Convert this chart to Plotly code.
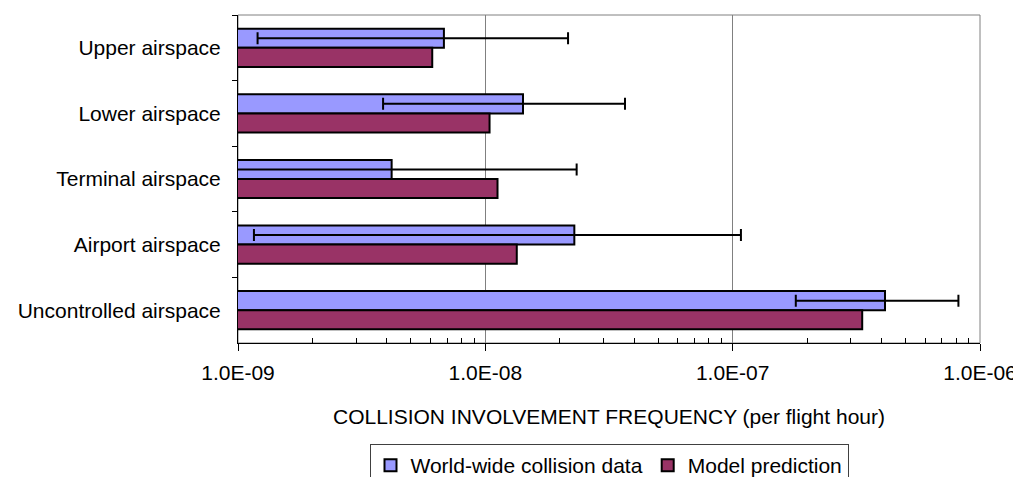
import plotly.graph_objects as go

categories = ["Upper airspace", "Lower airspace", "Terminal airspace",
              "Airport airspace", "Uncontrolled airspace"]
worldwide = [6.8e-9, 1.42e-8, 4.18e-9, 2.29e-8, 4.13e-7]
worldwide_low = [1.2e-9, 3.86e-9, 5.0e-10, 1.16e-9, 1.80e-7]
worldwide_high = [2.16e-8, 3.67e-8, 2.34e-8, 1.08e-7, 8.18e-7]
model = [6.1e-9, 1.04e-8, 1.12e-8, 1.34e-8, 3.34e-7]

tick_vals = [1e-9, 1e-8, 1e-7, 1e-6]
tick_text = ["1.0E-09", "1.0E-08", "1.0E-07", "1.0E-06"]
minor_vals = [k * 10.0 ** n for n in (-9, -8, -7) for k in range(2, 10)]

FONT = "Liberation Sans, Arial, sans-serif"
FS = 21

err_plus = [h - v for h, v in zip(worldwide_high, worldwide)]
err_minus = [v - l for l, v in zip(worldwide_low, worldwide)]

fig = go.Figure()
fig.add_trace(go.Bar(
    y=categories, x=worldwide, orientation="h",
    name="World-wide collision data",
    marker=dict(color="#9999FF", line=dict(color="black", width=2)),
    error_x=dict(type="data", symmetric=False, array=err_plus,
                 arrayminus=err_minus, color="black", thickness=2, width=6),
))
fig.add_trace(go.Bar(
    y=categories, x=model, orientation="h",
    name="Model prediction",
    marker=dict(color="#993366", line=dict(color="black", width=2)),
))

fig.add_shape(type="rect", xref="paper", yref="paper", x0=0, x1=1, y0=0, y1=1,
              line=dict(color="#808080", width=1), layer="below")

fig.add_annotation(text="COLLISION INVOLVEMENT FREQUENCY (per flight hour)",
                   xref="paper", yref="paper", x=0.5, y=-0.2226,
                   xanchor="center", yanchor="middle", showarrow=False,
                   font=dict(family=FONT, size=FS, color="black"))

# page body has an 8px margin: figure sized to fill the rest of the window
fig.update_layout(
    width=1013, height=469,
    margin=dict(l=230, r=41, t=7, b=134),
    paper_bgcolor="white", plot_bgcolor="white",
    barmode="group", bargap=0.417, bargroupgap=0,
    font=dict(family=FONT, size=FS, color="black"),
    showlegend=True,
    legend=dict(orientation="h", xref="paper", yref="container",
                x=0.5, xanchor="center", y=0.0704, yanchor="top",
                bordercolor="#404040", borderwidth=1, bgcolor="white",
                font=dict(family=FONT, size=FS), itemwidth=30,
                tracegroupgap=0),
    xaxis=dict(type="log", range=[-9, -6], tickvals=tick_vals, ticktext=tick_text,
               showgrid=True, gridcolor="#808080", gridwidth=1,
               showline=True, linecolor="black", linewidth=1,
               ticks="outside", ticklen=7, tickcolor="black", tickwidth=1,
               ticklabelstandoff=4,
               minor=dict(tickvals=minor_vals, ticks="inside", ticklen=5,
                          tickcolor="black", showgrid=False),
               zeroline=False, automargin=False),
    yaxis=dict(autorange="reversed", tickson="boundaries",
               showline=True, linecolor="black", linewidth=1,
               ticks="outside", ticklen=5, tickcolor="black",
               showgrid=False, ticklabelstandoff=12, automargin=False),
)

fig.write_html("out.html")
